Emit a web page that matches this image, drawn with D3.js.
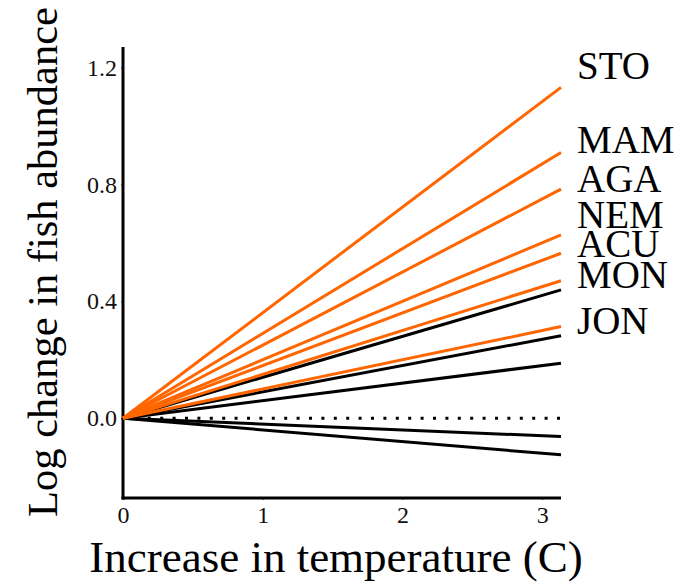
<!doctype html>
<meta charset="utf-8">
<style>
body { margin: 0; background: #fff; }
text { font-family: "Liberation Serif", "Times New Roman", serif; }
.tick text { font-size: 24px; font-family: "Liberation Serif", "Times New Roman", serif; }
</style>
<script src="https://d3js.org/d3.v7.min.js"></script>
<body>
<svg id="chart"></svg>
<script>
// slopes (log change per degree C)
var labelled = ["STO", "MAM", "AGA", "NEM", "ACU", "MON", "JON"];
var labelledSlopes = [0.361, 0.290, 0.250, 0.200, 0.180, 0.150, 0.100];
var labelValues = [1.203, 0.951, 0.818, 0.695, 0.595, 0.489, 0.331]; // where the names sit
var otherSlopes = [0.140, 0.090, 0.060, -0.020, -0.040];
var xTicks = [0, 1, 2, 3];
var yTicks = [0.0, 0.4, 0.8, 1.2];
var xMax = 3.135;

var width = 687, height = 582;
var svg = d3.select("#chart").attr("width", width).attr("height", height);

var x = d3.scaleLinear().domain([0, xMax]).range([123, 561]);
var y = d3.scaleLinear().domain([-0.273, 1.27]).range([498, 47]);

var orange = "#ff6600";

// axes
var xAxis = svg.append("g").attr("transform", "translate(0," + y(-0.273) + ")")
  .call(d3.axisBottom(x).tickValues(xTicks).tickSize(2).tickPadding(6).tickFormat(d3.format("d")));
var yAxis = svg.append("g").attr("transform", "translate(" + x(0) + ",0)")
  .call(d3.axisLeft(y).tickValues(yTicks).tickSize(2).tickPadding(4).tickFormat(d3.format(".1f")));

[xAxis, yAxis].forEach(function(a){
  a.attr("font-size", 24).attr("font-family", "Liberation Serif");
  a.select(".domain").remove();
  a.selectAll(".tick line").attr("stroke", "#333").attr("stroke-width", 1);
  a.selectAll(".tick text").attr("fill", "#111").attr("font-size", 24);
});
// axis lines as plain strokes (no outer ticks)
svg.append("line").attr("x1", x(0) - 1.5).attr("x2", x(xMax)).attr("y1", y(-0.273)).attr("y2", y(-0.273))
  .attr("stroke", "#000").attr("stroke-width", 3);
svg.append("line").attr("x1", x(0)).attr("x2", x(0)).attr("y1", y(1.27)).attr("y2", y(-0.273) + 1.5)
  .attr("stroke", "#000").attr("stroke-width", 3);

// zero reference
svg.append("line")
  .attr("x1", x(0)).attr("x2", x(xMax)).attr("y1", y(0)).attr("y2", y(0))
  .attr("stroke", "#000").attr("stroke-width", 3).attr("stroke-dasharray", "3 9.4");

var line = d3.line().x(function(d){ return x(d[0]); }).y(function(d){ return y(d[1]); });

svg.append("g").selectAll("path").data(otherSlopes).enter().append("path")
  .attr("d", function(s){ return line([[0, 0], [xMax, s * xMax]]); })
  .attr("fill", "none").attr("stroke", "#000").attr("stroke-width", 3);

svg.append("g").selectAll("path").data(labelledSlopes).enter().append("path")
  .attr("d", function(s){ return line([[0, 0], [xMax, s * xMax]]); })
  .attr("fill", "none").attr("stroke", orange).attr("stroke-width", 3);

svg.append("g").selectAll("text").data(labelled).enter().append("text")
  .attr("x", 577)
  .attr("y", function(d, i){ return y(labelValues[i]); })
  .attr("dy", "0.33em")
  .style("font-size", "39px")
  .text(function(d){ return d; });

// axis titles
svg.append("text").attr("x", 336).attr("y", 572).attr("text-anchor", "middle")
  .style("font-size", "45px").text("Increase in temperature (C)");
svg.append("text").attr("transform", "translate(57,262) rotate(-90)").attr("text-anchor", "middle")
  .style("font-size", "42.5px").text("Log change in fish abundance");
</script>
</body>
